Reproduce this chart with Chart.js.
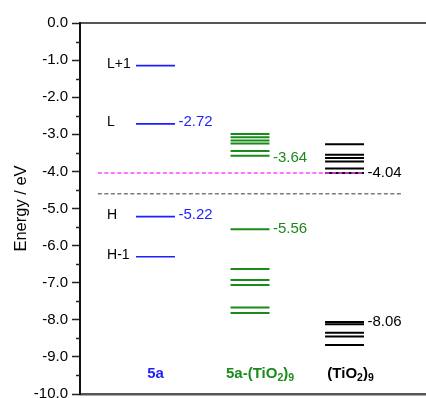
<!DOCTYPE html>
<html>
<head>
<meta charset="utf-8">
<script src="https://cdn.jsdelivr.net/npm/chart.js@4.4.1/dist/chart.umd.min.js"></script>
<style>
  html, body { margin: 0; padding: 0; background: #fff; }
  #wrap { width: 426px; height: 398px; }
</style>
</head>
<body>
<div id="wrap"><canvas id="c" width="426" height="398"></canvas></div>
<script>
// ---- data ----
const categories = ['5a', '5a-(TiO2)9', '(TiO2)9'];
const categoryPositions = [1, 2, 3];
const levels5a = [-1.15, -2.72, -5.22, -6.30];
const levelsComplex = [-2.99, -3.08, -3.17, -3.25, -3.45, -3.58, -5.56, -6.63, -6.93, -7.06, -7.67, -7.82];
const levelsTiO2 = [-3.27, -3.55, -3.64, -3.73, -3.92, -4.04, -8.06, -8.12, -8.35, -8.45, -8.68];
const orbitalNames = ['L+1', 'L', 'H', 'H-1'];
const orbitalEnergies = [-1.15, -2.72, -5.22, -6.30];
const valueLabels5a = [-2.72, -5.22];
const valueLabelsComplex = [-3.64, -5.56];
const valueLabelsTiO2 = [-4.04, -8.06];
const pinkRefLevel = -4.04;
const grayRefLevel = -4.60;
const yTicks = [0, -1, -2, -3, -4, -5, -6, -7, -8, -9, -10];

// ---- helpers ----
const HALF = 0.206;
function segs(center, levels) {
  const out = [];
  levels.forEach(v => {
    out.push({x: center - HALF, y: v}, {x: center + HALF, y: v}, {x: center, y: null});
  });
  return out;
}
const BLUE = '#1f1fff', GREEN = '#1a8a1a', BLACK = '#000000';
const FONT = '"Liberation Sans", Arial, sans-serif';

const textPlugin = {
  id: 'texts',
  afterDatasetsDraw(chart) {
    const ctx = chart.ctx, xs = chart.scales.x, ys = chart.scales.y;
    ctx.save();
    ctx.textBaseline = 'middle';
    // orbital names
    ctx.font = '14px ' + FONT;
    ctx.fillStyle = '#000';
    ctx.textAlign = 'left';
    orbitalNames.forEach((n, i) => {
      ctx.fillText(n, xs.getPixelForValue(categoryPositions[0] - HALF) - 29, ys.getPixelForValue(orbitalEnergies[i]) - 1.5);
    });
    // value labels
    ctx.font = '15px ' + FONT;
    const groups = [[valueLabels5a, BLUE, 0, -2], [valueLabelsComplex, GREEN, 1, 0], [valueLabelsTiO2, BLACK, 2, 0]];
    groups.forEach(([vals, col, idx, dy]) => {
      ctx.fillStyle = col;
      vals.forEach(v => {
        ctx.fillText(v.toFixed(2), xs.getPixelForValue(categoryPositions[idx] + HALF) + 3.5, ys.getPixelForValue(v) + dy);
      });
    });
    // category labels with subscripts
    const yCat = ys.getPixelForValue(-9.45);
    const cols = [BLUE, GREEN, BLACK];
    categories.forEach((c, i) => {
      const parts = [];
      let buf = '';
      for (let k = 0; k < c.length; k++) {
        const ch = c[k];
        const prev = c[k - 1];
        if (/[0-9]/.test(ch) && (prev === 'O' || prev === ')')) {
          if (buf) parts.push({t: buf, sub: false});
          buf = '';
          parts.push({t: ch, sub: true});
        } else buf += ch;
      }
      if (buf) parts.push({t: buf, sub: false});
      const big = 'bold 15px ' + FONT;
      const small = 'bold 10.5px ' + FONT;
      let w = 0;
      parts.forEach(p => { ctx.font = p.sub ? small : big; p.w = ctx.measureText(p.t).width; w += p.w; });
      let x = xs.getPixelForValue(categoryPositions[i]) - w / 2 + (i === 1 ? 10 : (i === 2 ? 6 : 0));
      ctx.fillStyle = cols[i];
      ctx.textAlign = 'left';
      parts.forEach(p => {
        ctx.font = p.sub ? small : big;
        ctx.fillText(p.t, x, yCat + (p.sub ? 5 : 0));
        x += p.w;
      });
    });
    ctx.restore();
  },
  afterDraw(chart) {
    const ctx = chart.ctx, ys = chart.scales.y, left = chart.chartArea.left;
    ctx.save();
    ctx.strokeStyle = '#222';
    ctx.lineWidth = 1.5;
    for (let v = -0.5; v > -10; v -= 1) {
      const y = Math.round(ys.getPixelForValue(v)) + 0.5;
      ctx.beginPath(); ctx.moveTo(left - 4, y); ctx.lineTo(left, y); ctx.stroke();
    }
    ctx.restore();
  }
};

const ds = (label, data, color, width, dash) => ({
  label, data, borderColor: color, borderWidth: width, borderDash: dash || [],
  pointRadius: 0, spanGaps: false, fill: false, tension: 0
});

new Chart(document.getElementById('c'), {
  type: 'line',
  data: {
    datasets: [
      ds('pink', [{x: 0.39, y: pinkRefLevel}, {x: 3.21, y: pinkRefLevel}], '#ff44ff', 1.5, [4, 2.5]),
      ds('gray', [{x: 0.39, y: grayRefLevel}, {x: 3.6, y: grayRefLevel}], '#7a7a7a', 1.5, [4, 2.5]),
      ds(categories[0], segs(categoryPositions[0], levels5a), BLUE, 1.7),
      ds(categories[1], segs(categoryPositions[1], levelsComplex), GREEN, 2),
      ds(categories[2], segs(categoryPositions[2], levelsTiO2), BLACK, 2)
    ]
  },
  options: {
    responsive: false,
    animation: false,
    parsing: true,
    layout: { padding: { left: 0, right: 0, top: 23, bottom: 4 } },
    plugins: { legend: { display: false }, tooltip: { enabled: false } },
    scales: {
      x: {
        type: 'linear', position: 'bottom', min: 0.201, max: 3.862,
        grid: { display: false }, ticks: { display: false },
        border: { display: true, color: '#555', width: 2.5 },
        afterFit(s) { s.height = 0; s.paddingLeft = 0; s.paddingRight = 0; }
      },
      x2: {
        type: 'linear', position: 'top', min: 0.201, max: 3.862,
        grid: { display: false }, ticks: { display: false },
        border: { display: true, color: '#555', width: 2 },
        afterFit(s) { s.height = 0; s.paddingLeft = 0; s.paddingRight = 0; }
      },
      y: {
        type: 'linear', min: -10, max: 0,
        afterBuildTicks(s) { s.ticks = yTicks.map(v => ({value: v})); },
        ticks: {
          callback: v => v.toFixed(1),
          font: { size: 15, family: FONT },
          color: '#000', padding: 4, autoSkip: false
        },
        grid: { drawOnChartArea: false, drawTicks: true, tickLength: 8, tickColor: '#222', tickWidth: 1.5 },
        border: { display: true, color: '#111', width: 2 },
        title: {
          display: true, text: 'Energy / eV', color: '#000',
          font: { size: 16.5, family: FONT },
          padding: { top: 12, bottom: 0 }
        },
        afterFit(s) { s.width = 80; s.paddingTop = 0; s.paddingBottom = 0; }
      }
    }
  },
  plugins: [textPlugin]
});
</script>
</body>
</html>
